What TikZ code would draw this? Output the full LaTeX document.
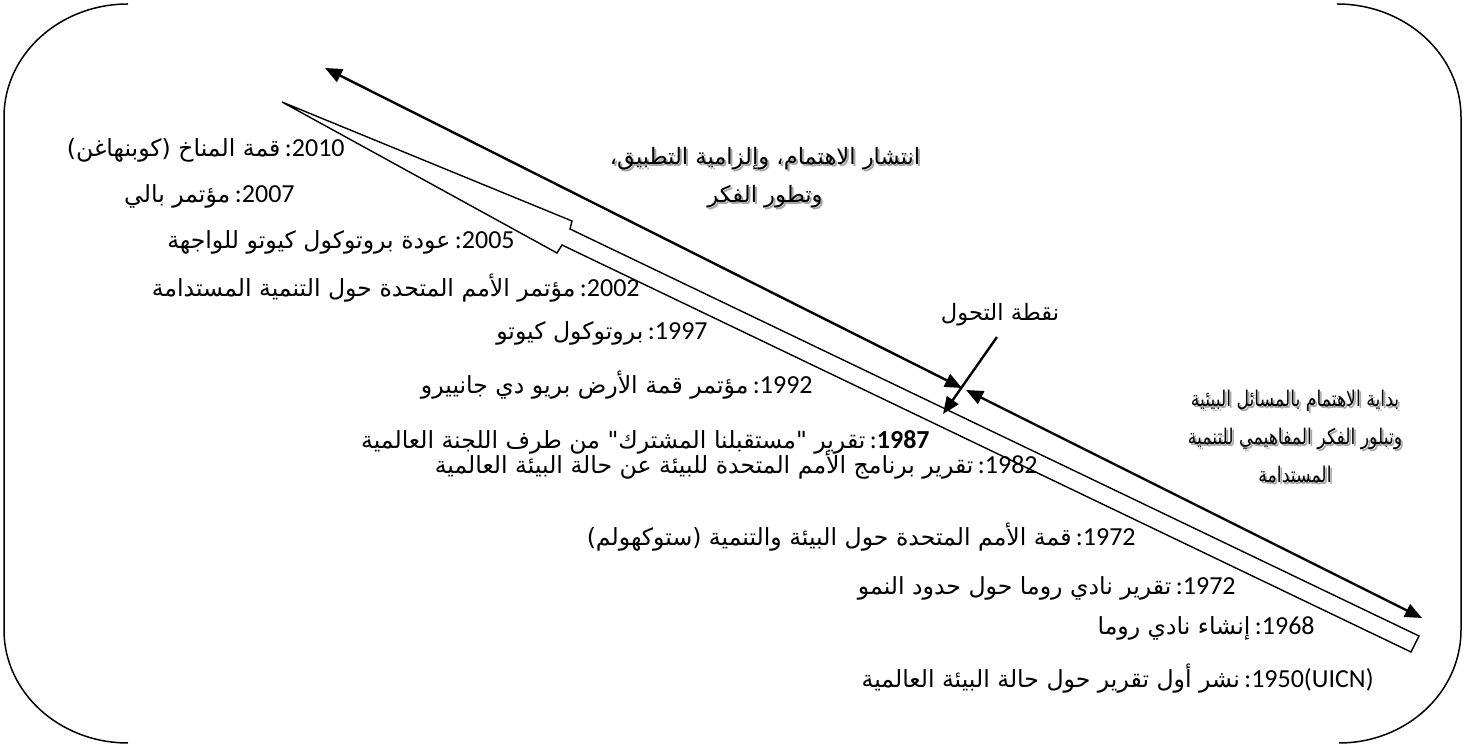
\documentclass[tikz,border=0pt]{standalone}
\usepackage{fontspec}
\setmainfont{Carlito}
\newfontfamily\arfont[Script=Arabic]{DejaVu Sans}
\newfontfamily\arfontn[Script=Arabic,FakeStretch=0.8]{DejaVu Sans}
\newfontfamily\digfont{Carlito}
\TeXXeTstate=1
\usetikzlibrary{arrows.meta}
\newcommand{\AR}[1]{{\arfont\fontsize{11.8pt}{14pt}\selectfont\beginR #1\endR}}
\newcommand{\ARt}[1]{{\arfont\fontsize{11.3pt}{14pt}\selectfont\beginR #1\endR}}
\newcommand{\ARs}[1]{{\arfontn\fontsize{10.8pt}{12pt}\selectfont\beginR #1\endR}}
\newcommand{\YR}[1]{{\digfont\fontsize{13pt}{15pt}\selectfont #1}}
\tikzset{
  frame/.style={line width=0.75pt},
  bigarr/.style={line width=1.2pt,{Triangle[length=8.5pt,width=7pt]}-{Triangle[length=8.5pt,width=7pt]}},
  ptr/.style={line width=1.2pt,-{Triangle[length=8.5pt,width=7pt]}},
  band/.style={line width=0.7pt,fill=white},
  lbl/.style={anchor=base east,inner sep=0pt},
  ctext/.style={anchor=base,inner sep=0pt,align=center},
  shadowtext/.style={ctext,text=black!35}
}
\begin{document}
\begin{tikzpicture}[x=0.5pt,y=-0.5pt]
\useasboundingbox (0,0) rectangle (1474,747);
% brackets
\draw[frame] (128,4) arc[start angle=270,end angle=180,x radius=124,y radius=113] -- (4,630) arc[start angle=180,end angle=90,x radius=124,y radius=113];
\draw[frame] (1337,4) arc[start angle=270,end angle=360,x radius=124,y radius=113] -- (1461,630) arc[start angle=0,end angle=90,x radius=122,y radius=113];
% hollow band
\draw[band] (282,102) -- (572,221) -- (570,229) -- (1419,636) -- (1411,652) -- (562,245) -- (557,253) -- cycle;
% double arrows
\coordinate (a1) at (325,68);
\coordinate (m1) at (962,388);
\coordinate (m2) at (966,390);
\coordinate (a2) at (1422,618);
\draw[bigarr] (m1) -- (a1);
\draw[bigarr] (m2) -- (a2);
% turning point
\node[ctext] (tp) at (1000,321) {\ARt{نقطة التحول}};
\coordinate (tps) at (997,337);
\coordinate (tpe) at (943,414);
\draw[ptr] (tps) -- (tpe);
% top text
\node[shadowtext] (tts) at (767,205) {\ARt{انتشار الاهتمام، وإلزامية التطبيق،}\\[7pt]\ARt{وتطور الفكر}};
\node[ctext] (tt) at (765,203) {\ARt{انتشار الاهتمام، وإلزامية التطبيق،}\\[7pt]\ARt{وتطور الفكر}};
% right text
\node[shadowtext] (rts) at (1297,485) {\ARs{بداية الاهتمام بالمسائل البيئية}\\[7pt]\ARs{وتبلور الفكر المفاهيمي للتنمية}\\[7pt]\ARs{المستدامة}};
\node[ctext] (rt) at (1295,483) {\ARs{بداية الاهتمام بالمسائل البيئية}\\[7pt]\ARs{وتبلور الفكر المفاهيمي للتنمية}\\[7pt]\ARs{المستدامة}};
% timeline labels
\node[lbl] (l1) at (345,157) {\AR{قمة المناخ (كوبنهاغن)} \YR{:2010}};
\node[lbl] (l2) at (295,203) {\AR{مؤتمر بالي} \YR{:2007}};
\node[lbl] (l3) at (515,249) {\AR{عودة بروتوكول كيوتو للواجهة} \YR{:2005}};
\node[lbl] (l4) at (640,297) {\AR{مؤتمر الأمم المتحدة حول التنمية المستدامة} \YR{:2002}};
\node[lbl] (l5) at (708,340) {\AR{بروتوكول كيوتو} \YR{:1997}};
\node[lbl] (l6) at (813,394) {\AR{مؤتمر قمة الأرض بريو دي جانييرو} \YR{:1992}};
\node[lbl] (l7) at (930,449) {\AR{تقرير "مستقبلنا المشترك" من طرف اللجنة العالمية} \YR{:\textbf{1987}}};
\node[lbl] (l8) at (1038,474) {\AR{تقرير برنامج الأمم المتحدة للبيئة عن حالة البيئة العالمية} \YR{:1982}};
\node[lbl] (l9) at (1136,546) {\AR{قمة الأمم المتحدة حول البيئة والتنمية (ستوكهولم)} \YR{:1972}};
\node[lbl] (l10) at (1236,595) {\AR{تقرير نادي روما حول حدود النمو} \YR{:1972}};
\node[lbl] (l11) at (1315,635) {\AR{إنشاء نادي روما} \YR{:1968}};
\node[lbl] (l12) at (1374,688) {\AR{نشر أول تقرير حول حالة البيئة العالمية} \YR{:1950(UICN)}};
\end{tikzpicture}
\end{document}
